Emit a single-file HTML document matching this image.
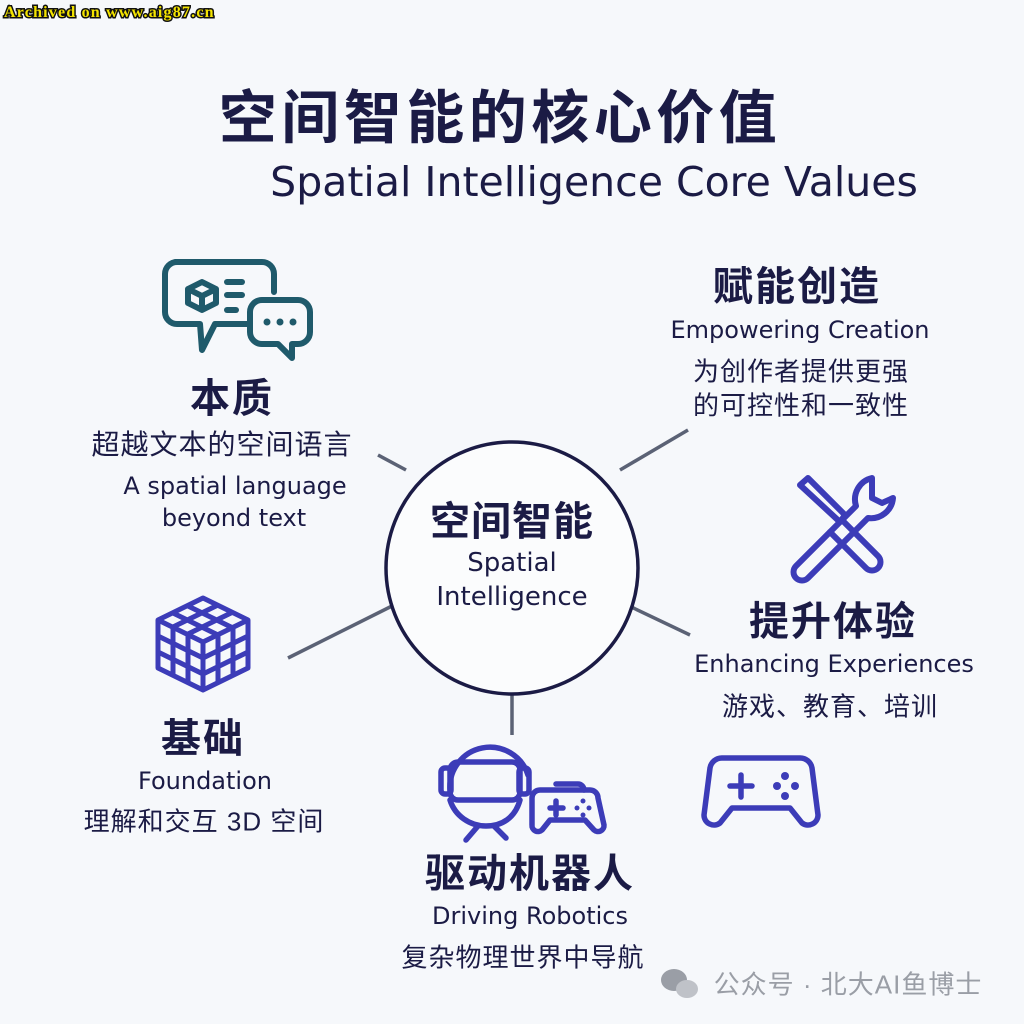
<!DOCTYPE html>
<html><head><meta charset="utf-8"><style>
html,body{margin:0;padding:0}
body{width:1024px;height:1024px;background:#f6f8fb;position:relative;overflow:hidden;font-family:"DejaVu Sans","Noto Sans CJK SC",sans-serif;color:#1b1b45}
.t{position:absolute;white-space:nowrap;transform:translate(-50%,-50%)}
.b{font-weight:bold;font-family:"Liberation Sans","Noto Sans CJK SC",sans-serif}
.c{font-family:"Liberation Sans","Noto Sans CJK SC",sans-serif;letter-spacing:1px}
</style></head><body>
<div style="position:absolute;left:4px;top:4px;font:bold 16px 'Liberation Serif',serif;color:#f4e400;-webkit-text-stroke:3px #111;paint-order:stroke fill;letter-spacing:1.2px">Archived on www.aig87.cn</div>

<div class="t b" style="left:500px;top:113px;font-size:58px;letter-spacing:4.5px">空间智能的核心价值</div>
<div class="t" style="left:594px;top:182px;font-size:41px">Spatial Intelligence Core Values</div>

<svg width="1024" height="1024" style="position:absolute;left:0;top:0">
<g stroke="#5b6275" stroke-width="3.5">
<line x1="378" y1="455" x2="406" y2="470"/>
<line x1="620" y1="470" x2="688" y2="430"/>
<line x1="288" y1="658" x2="398" y2="603"/>
<line x1="625" y1="604" x2="690" y2="635"/>
<line x1="512" y1="670" x2="512" y2="735"/>
</g>
<circle cx="512" cy="568" r="126" fill="#fbfcfd" stroke="#1b1b45" stroke-width="3.5"/>
<g fill="none" stroke="#1f5a6b" stroke-width="6" stroke-linejoin="round" stroke-linecap="round">
<path d="M175 262 H262 a12 12 0 0 1 12 12 V292 M248 324 H215 L202 350 L200 324 H177 a12 12 0 0 1 -12 -12 V274 a12 12 0 0 1 12 -12"/>
<path d="M262 300 H298 a12 12 0 0 1 12 12 V332 a12 12 0 0 1 -12 12 H292 L292 358 L278 344 H262 a12 12 0 0 1 -12 -12 V312 a12 12 0 0 1 12 -12Z"/>
<path d="M202 282 L216 289 V303 L202 310 L188 303 V289Z M188 289 L202 296 L216 289 M202 296 V310"/>
<line x1="227" y1="282" x2="242" y2="282"/><line x1="227" y1="295" x2="242" y2="295"/><line x1="227" y1="310" x2="236" y2="310"/>
</g>
<g fill="#1f5a6b"><circle cx="267" cy="322" r="3.5"/><circle cx="280" cy="322" r="3.5"/><circle cx="293" cy="322" r="3.5"/></g>
<g fill="none" stroke="#3c3cb8" stroke-width="6" stroke-linejoin="round" stroke-linecap="round">
<path d="M800 485 L808 478 L845 515 L840 522 Z M842 520 L878 556 a8 8 0 0 1 -12 12 L830 532"/>
<path d="M872 478 a22 22 0 0 0 -16 28 L796 566 a8 8 0 0 0 12 12 L868 518 a22 22 0 0 0 25 -20 L882 503 L872 498 Z"/>
</g>
<g fill="none" stroke="#3c3cb8" stroke-width="5" stroke-linejoin="round">
<path d="M203 598 L248 620 V668 L203 690 L158 668 V620 Z"/>
<path d="M158 620 L203 642 L248 620 M203 642 V690"/>
<path d="M173 613 L218 635 M188 606 L233 628 M218 605 L173 627 M233 612 L188 634"/>
<path d="M158 636 L203 658 L248 636 M158 652 L203 674 L248 652 M173 627 V675 M188 634 V682 M218 634 V682 M233 627 V675"/>
</g>
<g fill="none" stroke="#3c3cb8" stroke-width="5.5" stroke-linejoin="round" stroke-linecap="round">
<path d="M450 790 a40 40 0 0 1 78 -15"/>
<rect x="450" y="762" width="70" height="38" rx="8"/>
<path d="M450 800 C455 816,470 826,486 826 C502 826,515 818,520 800"/>
<rect x="441" y="768" width="10" height="26" rx="4"/><rect x="519" y="768" width="10" height="26" rx="4"/>
<path d="M478 826 L466 840 M494 826 L506 838"/>
<path d="M556 784 H578 a6 6 0 0 1 6 6"/>
<path d="M540 790 H590 a8 8 0 0 1 8 8 L604 825 a6 6 0 0 1 -10 5 L585 820 H550 L542 830 a6 6 0 0 1 -10 -5 L532 798 a8 8 0 0 1 8 -8Z"/>
<path d="M550 808 H563 M556 801 V815"/>
<path d="M722 758 H800 a12 12 0 0 1 12 10 L818 815 a10 10 0 0 1 -16 8 L790 808 H732 L720 823 a10 10 0 0 1 -16 -8 L710 768 a12 12 0 0 1 12 -10Z"/>
<path d="M730 786 H752 M741 775 V797"/>
</g>
<g fill="#3c3cb8"><circle cx="583" cy="801" r="2.5"/><circle cx="577" cy="808" r="2.5"/><circle cx="589" cy="808" r="2.5"/><circle cx="583" cy="815" r="2.5"/>
<circle cx="785" cy="776" r="4"/><circle cx="777" cy="786" r="4"/><circle cx="795" cy="786" r="4"/><circle cx="785" cy="796" r="4"/></g>
<g fill="#9a9ea6"><ellipse cx="674" cy="980" rx="13" ry="11"/><ellipse cx="687" cy="989" rx="11" ry="9" fill="#bfc2c8"/></g>
</svg>

<div class="t b" style="left:512px;top:518px;font-size:40px;letter-spacing:1px">空间智能</div>
<div class="t" style="left:512px;top:563px;font-size:26px">Spatial</div>
<div class="t" style="left:512px;top:597px;font-size:26px">Intelligence</div>

<div class="t b" style="left:232px;top:395px;font-size:40px;letter-spacing:2px">本质</div>
<div class="t c" style="left:222px;top:443px;font-size:28px">超越文本的空间语言</div>
<div class="t" style="left:235px;top:486px;font-size:24px">A spatial language</div>
<div class="t" style="left:234px;top:518px;font-size:24px">beyond text</div>

<div class="t b" style="left:797px;top:283px;font-size:40px;letter-spacing:2px">赋能创造</div>
<div class="t" style="left:800px;top:330px;font-size:24px">Empowering Creation</div>
<div class="t c" style="left:801px;top:370px;font-size:26px">为创作者提供更强</div>
<div class="t c" style="left:801px;top:404px;font-size:26px">的可控性和一致性</div>

<div class="t b" style="left:833px;top:618px;font-size:40px;letter-spacing:2px">提升体验</div>
<div class="t" style="left:834px;top:664px;font-size:24px">Enhancing Experiences</div>
<div class="t c" style="left:830px;top:705px;font-size:26px">游戏、教育、培训</div>

<div class="t b" style="left:203px;top:735px;font-size:40px;letter-spacing:2px">基础</div>
<div class="t" style="left:205px;top:781px;font-size:24px">Foundation</div>
<div class="t c" style="left:204px;top:820px;font-size:26px">理解和交互 3D 空间</div>

<div class="t b" style="left:530px;top:870px;font-size:40px;letter-spacing:2px">驱动机器人</div>
<div class="t" style="left:530px;top:916px;font-size:24px">Driving Robotics</div>
<div class="t c" style="left:523px;top:956px;font-size:26px">复杂物理世界中导航</div>

<div class="t c" style="left:848px;top:983px;font-size:26px;color:#9a9ea6">公众号 · 北大AI鱼博士</div>
</body></html>
